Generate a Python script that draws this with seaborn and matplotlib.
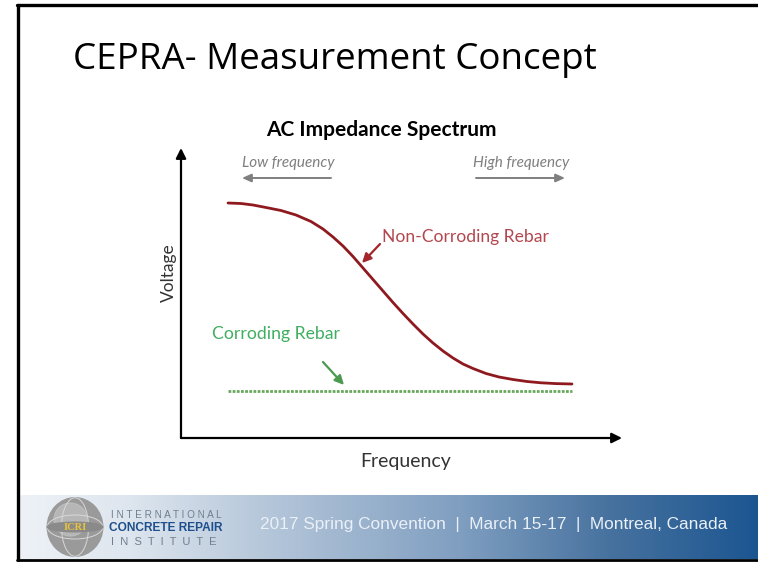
import numpy as np
import matplotlib
matplotlib.use("Agg")
import matplotlib.pyplot as plt
import seaborn as sns
import pandas as pd
from matplotlib.colors import LinearSegmentedColormap
from matplotlib.patches import Ellipse

# curve (frequency / voltage in arbitrary units)
freq_noncorr = [47, 60, 72, 85, 100, 115, 130, 142, 152, 162, 172, 182, 192, 202, 212,
                222, 232, 242, 252, 262, 272, 282, 292, 305, 318, 332, 346, 360, 375, 391]
volt_noncorr = [235, 234.5, 233, 230.5, 227.5, 223, 216.5, 209, 201, 192, 181.5, 170, 158.5,
                147, 135.5, 124.5, 114, 104, 95, 87, 80, 74, 69.5, 64.5, 61, 58.5, 56.5,
                55.2, 54.4, 54]
freq_corr = [47, 391]
volt_corr = [47, 47]

title = "CEPRA- Measurement Concept"
chart_title = "AC Impedance Spectrum"
footer = "2017 Spring Convention  |  March 15-17  |  Montreal, Canada"

W, H = 758, 562
sns.set_theme(style="white")
plt.rcParams['font.family'] = ['Lato', 'DejaVu Sans']

fig = plt.figure(figsize=(W / 100, H / 100), dpi=100)
fig.patch.set_facecolor("white")


def fx(px):
    return px / W


def fy(py):
    return 1 - py / H


# footer gradient band
band = fig.add_axes([fx(19), fy(559), fx(758) - fx(19), (559 - 495) / H])
cmap = LinearSegmentedColormap.from_list(
    "band", [(0, "#eef2f7"), (0.15, "#dde5ee"), (0.33, "#b6c7da"), (0.6, "#7f9ec0"),
             (0.8, "#47729f"), (1, "#1c5691")])
grad = np.linspace(0, 1, 256)[None, :].repeat(2, axis=0)
band.imshow(grad, aspect="auto", cmap=cmap, extent=[0, 1, 0, 1])
band.set_axis_off()

# slide frame
fig.add_artist(plt.Line2D([fx(17.5), fx(17.5)], [fy(4.5), fy(560)], color="black", lw=2.4))
fig.add_artist(plt.Line2D([fx(16.5), fx(758)], [fy(4.5), fy(4.5)], color="black", lw=2.4))
fig.add_artist(plt.Line2D([fx(16.5), fx(758)], [fy(560), fy(560)], color="black", lw=2.0))

# logo
logo = fig.add_axes([fx(45), fy(557), fx(105) - fx(45), (557 - 497) / H])
logo.set_xlim(-1, 1)
logo.set_ylim(-1, 1)
logo.set_axis_off()
logo.add_patch(Ellipse((0, 0), 1.85, 1.95, color="#9a9a9a"))
logo.add_patch(Ellipse((-0.15, 0.25), 1.1, 1.1, color="#c2c2c2", alpha=0.7))
logo.add_patch(Ellipse((0, 0), 1.85, 0.8, fill=False, ec="#d8d8d8", lw=0.7))
logo.add_patch(Ellipse((0, 0), 0.9, 1.95, fill=False, ec="#d8d8d8", lw=0.7))
logo.add_patch(Ellipse((0, 0), 1.85, 0.32, color="#8a8a8a"))
logo.text(0, 0, "ICRI", color="#e8c43a", fontsize=7.5, fontweight="bold", ha="center", va="center",
          family=["Liberation Serif", "DejaVu Serif"])

fig.text(fx(111), fy(515), "I N T E R N A T I O N A L", color="#6f7f8f", fontsize=7.2, ha="left",
         va="center", family=["Liberation Sans", "DejaVu Sans"])
fig.text(fx(109), fy(528), "CONCRETE REPAIR", color="#1d4f8c", fontsize=8.6, fontweight="bold",
         ha="left", va="center", family=["Liberation Sans", "DejaVu Sans"])
fig.text(fx(111), fy(542), "I  N  S  T  I  T  U  T  E", color="#6f7f8f", fontsize=8, ha="left",
         va="center", family=["Liberation Sans", "DejaVu Sans"])
fig.text(fx(727), fy(525), footer, color="#eaf0f7", fontsize=12.4, ha="right", va="center",
         family=["Liberation Sans Narrow", "Liberation Sans", "DejaVu Sans"])

# slide titles
fig.text(fx(73), fy(60), title, fontsize=26.5, color="black", ha="left", va="center",
         family=["Open Sans", "DejaVu Sans"])
fig.text(fx(381), fy(130), chart_title, fontsize=15, fontweight="bold", color="black",
         ha="center", va="center")

# chart axes: origin at (181, 438) px, arrows to (622, 438) and (181, 148)
ax = fig.add_axes([fx(181), fy(438), fx(622) - fx(181), (438 - 148) / H])
ax.set_xlim(0, 441)
ax.set_ylim(0, 290)
ax.patch.set_alpha(0)
for s in ax.spines.values():
    s.set_visible(False)
ax.set_xticks([])
ax.set_yticks([])

df_nc = pd.DataFrame({"Frequency": freq_noncorr, "Voltage": volt_noncorr})
df_c = pd.DataFrame({"Frequency": freq_corr, "Voltage": volt_corr})
sns.lineplot(data=df_nc, x="Frequency", y="Voltage", sort=False, color="#8e1a1f", lw=2.0, ax=ax)
sns.lineplot(data=df_c, x="Frequency", y="Voltage", sort=False, color="#68a85c", lw=2.0,
             ax=ax, linestyle=(0, (1.0, 0.5)))
ax.set_xlabel("")
ax.set_ylabel("")

arrow_k = dict(arrowstyle="-|>,head_length=0.5,head_width=0.25", color="black", lw=1.6,
               shrinkA=0, shrinkB=0)
ax.annotate("", xy=(441, 0), xytext=(0, 0), arrowprops=arrow_k, annotation_clip=False)
ax.annotate("", xy=(0, 290), xytext=(0, 0), arrowprops=arrow_k, annotation_clip=False)

fig.text(fx(406), fy(462), "Frequency", fontsize=14, color="#333333", ha="center", va="center")
fig.text(fx(169), fy(273), "Voltage", fontsize=12.5, color="#333333", ha="center", va="center",
         rotation=90)

gray = "#7f7f7f"
arrow_g = dict(arrowstyle="-|>,head_length=0.45,head_width=0.2", color=gray, lw=1.4,
               shrinkA=0, shrinkB=0)
ax.text(107, 275, "Low frequency", fontsize=11, style="italic", color=gray, ha="center", va="center")
ax.annotate("", xy=(61, 260), xytext=(150, 260), arrowprops=arrow_g)
ax.text(340, 275, "High frequency", fontsize=11, style="italic", color=gray, ha="center", va="center")
ax.annotate("", xy=(384, 260), xytext=(295, 260), arrowprops=arrow_g)

ax.text(201, 201, "Non-Corroding Rebar", fontsize=12.6, color="#b3474e", ha="left", va="center")
ax.annotate("", xy=(181, 175), xytext=(199, 194),
            arrowprops=dict(arrowstyle="-|>,head_length=0.45,head_width=0.22", color="#a3262c",
                            lw=1.6, shrinkA=0, shrinkB=0))
ax.text(31, 104, "Corroding Rebar", fontsize=12.7, color="#3fae61", ha="left", va="center")
ax.annotate("", xy=(163, 53), xytext=(142, 76),
            arrowprops=dict(arrowstyle="-|>,head_length=0.45,head_width=0.22", color="#4c9a50",
                            lw=1.6, shrinkA=0, shrinkB=0))

fig.savefig("out.png", dpi=100)
